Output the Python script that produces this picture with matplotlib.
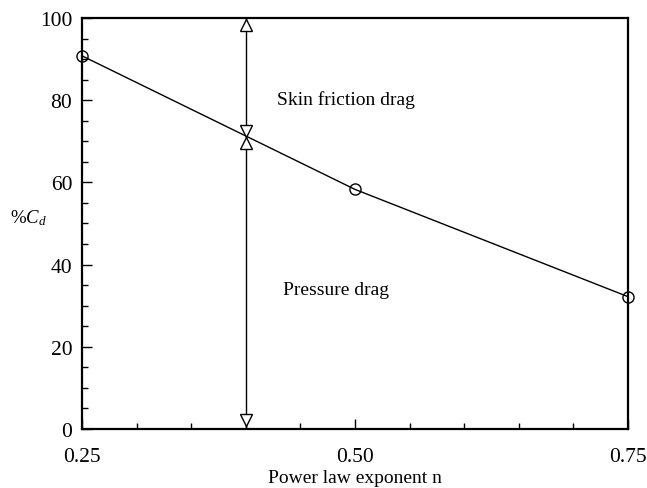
import matplotlib
matplotlib.use('Agg')
import matplotlib.pyplot as plt
import numpy as np

plt.rcParams['font.family'] = ['Liberation Serif', 'DejaVu Serif']
plt.rcParams['mathtext.fontset'] = 'custom'
plt.rcParams['mathtext.rm'] = 'Liberation Serif'
plt.rcParams['mathtext.it'] = 'Liberation Serif:italic'

# Data
n = [0.25, 0.50, 0.75]
cd_pct = [90.8, 58.3, 32.2]

# Dimension arrow at n = 0.40
arrow_x = 0.40
arrow_up_y = [98.4, 69.6]
arrow_down_y = [72.4, 2.2]

fig = plt.figure(figsize=(6.47, 4.89), dpi=100, facecolor='w')
ax = fig.add_axes([0.1267, 0.1207, 0.8439, 0.8404])

ax.plot(n, cd_pct, 'k-', lw=1.0, marker='o', markersize=8,
        markerfacecolor='none', markeredgecolor='k', markeredgewidth=1.0,
        clip_on=False, zorder=3)

# vertical line with arrow heads
ax.plot([arrow_x, arrow_x], [0, 100], 'k-', lw=1.0)
ax.plot([arrow_x] * 2, arrow_up_y, ls='none', marker='^', markersize=8,
        markerfacecolor='w', markeredgecolor='k', markeredgewidth=1.0, zorder=4)
ax.plot([arrow_x] * 2, arrow_down_y, ls='none', marker='v', markersize=8,
        markerfacecolor='w', markeredgecolor='k', markeredgewidth=1.0, zorder=4)

ax.text(0.4286, 80.3, 'Skin friction drag', fontsize=14, va='center', ha='left')
ax.text(0.4340, 34.0, 'Pressure drag', fontsize=14, va='center', ha='left')

ax.set_xlim(0.25, 0.75)
ax.set_ylim(0, 100)
ax.set_xticks([0.25, 0.50, 0.75])
ax.set_xticklabels(['0.25', '0.50', '0.75'])
ax.set_xticks(np.arange(0.25, 0.751, 0.05), minor=True)
ax.set_yticks([0, 20, 40, 60, 80, 100])
ax.set_yticks(np.arange(0, 101, 5), minor=True)

ax.tick_params(which='both', direction='in', top=False, right=False,
               labelsize=15.5, width=1.0)
ax.tick_params(which='major', length=7)
ax.tick_params(which='minor', length=4)
ax.tick_params(axis='x', which='major', pad=13)
ax.tick_params(axis='y', which='major', pad=7)
for s in ax.spines.values():
    s.set_linewidth(1.6)

ax.set_xlabel('Power law exponent n', fontsize=14, va='center')
ax.xaxis.set_label_coords(0.5, -0.117)
ax.set_ylabel(r'$\%C_d$', fontsize=13.5, rotation=0, va='center', ha='center')
ax.yaxis.set_label_coords(-0.099, 0.516)

plt.savefig('out.png', dpi=100)
plt.close()
